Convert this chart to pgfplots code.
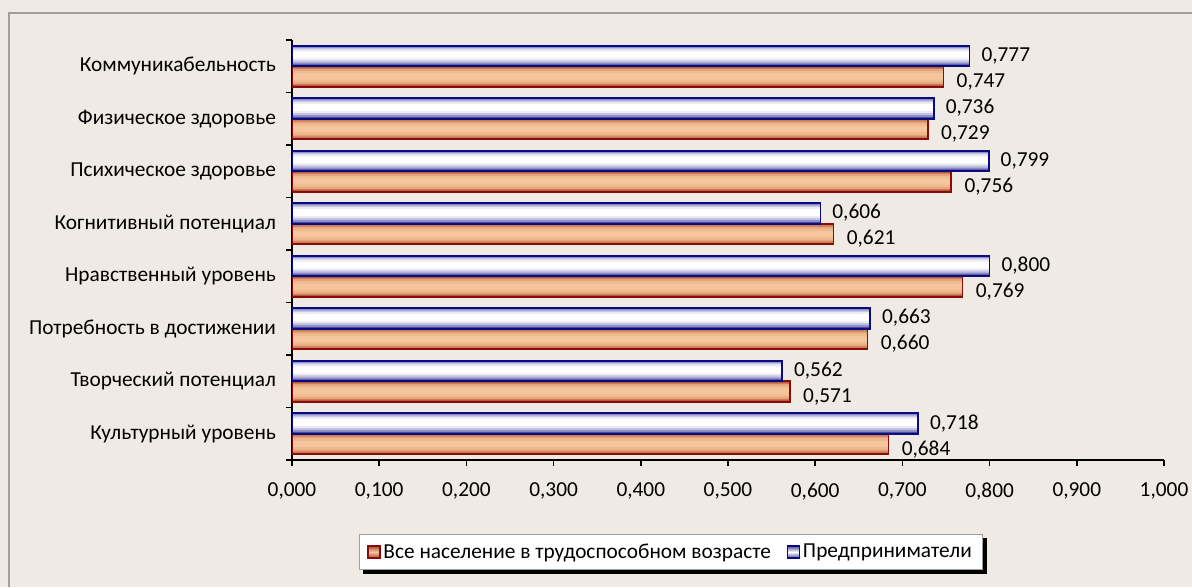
\documentclass[border=0pt]{standalone}
\usepackage{fontspec}
\setmainfont{Carlito}
\usepackage{pgfplots}
\usepackage{pgfplotstable}
\pgfplotsset{compat=1.18}
\pgfdeclarelayer{background}
\pgfsetlayers{background,main}

\definecolor{bg}{RGB}{239,234,227}
\definecolor{frame}{RGB}{160,160,155}
\definecolor{navyedge}{RGB}{10,10,130}
\definecolor{rededge}{RGB}{140,10,10}
\definecolor{b1}{RGB}{75,75,155}
\definecolor{b2}{RGB}{140,140,195}
\definecolor{b3}{RGB}{195,195,225}
\definecolor{b4}{RGB}{235,235,245}
\definecolor{r1}{RGB}{165,75,50}
\definecolor{r2}{RGB}{200,125,88}
\definecolor{r3}{RGB}{228,165,122}
\definecolor{r4}{RGB}{240,185,142}
\definecolor{r5}{RGB}{245,198,158}

% Все население в трудоспособном возрасте (y = категория снизу вверх)
\pgfplotstableread{
x y
0.684 0
0.571 1
0.660 2
0.769 3
0.621 4
0.756 5
0.729 6
0.747 7
}\allpop
% Предприниматели
\pgfplotstableread{
x y
0.718 0
0.562 1
0.663 2
0.800 3
0.606 4
0.799 5
0.736 6
0.777 7
}\entrep

\pgfplotsset{
  band/.style n args={3}{xbar, forget plot, draw=none, fill=#1, bar width=#2, bar shift=#3},
}

\begin{document}
\begin{tikzpicture}
\begin{pgfonlayer}{background}
\fill[bg] (0,0) rectangle (894pt,440.25pt);
\end{pgfonlayer}
\draw[frame, line width=2pt] (6.75pt,0) -- (6.75pt,430.5pt) -- (894pt,430.5pt);
\begin{axis}[
  at={(219pt,95.25pt)}, anchor=south west,
  scale only axis, width=654pt, height=315pt,
  font=\fontsize{16}{18}\selectfont,
  xmin=0, xmax=1, ymin=-0.5, ymax=7.5,
  axis x line*=bottom, axis y line*=left,
  axis line style={line width=1.2pt},
  tick align=outside,
  major tick length=4.5pt, minor tick length=4.5pt,
  tick style={line width=1.2pt, black},
  xtick={0,0.1,...,1.01},
  xticklabel style={yshift=-9pt},
  x tick label style={/pgf/number format/.cd, fixed, fixed zerofill, precision=3, use comma, /tikz/.cd},
  /pgf/number format/assume math mode=true,
  ytick={0,...,7},
  yticklabels={Культурный уровень, Творческий потенциал, Потребность в достижении, Нравственный уровень, Когнитивный потенциал, Психическое здоровье, Физическое здоровье, Коммуникабельность},
  major y tick style={draw=none},
  minor ytick={-0.5,0.5,...,7.5},
  yticklabel style={xshift=-4pt},
  legend style={at={(0.4346,-0.219)}, anchor=center, legend columns=2,
    draw=frame, fill=white, inner xsep=6pt, inner ysep=5pt, name=leg,
    /tikz/every even column/.append style={column sep=10pt}},
  legend image code/.code={\draw[#1, line width=1pt] (0pt,-4.5pt) rectangle (9pt,4.5pt);},
]
% красные полосы (нижние)
\addplot[band={r1}{0.39}{-0.195}] table {\allpop};
\addplot[band={r2}{0.34}{-0.195}] table {\allpop};
\addplot[band={r3}{0.28}{-0.195}] table {\allpop};
\addplot[band={r4}{0.21}{-0.195}] table {\allpop};
\addplot[band={r5}{0.12}{-0.195}] table {\allpop};
\addplot[xbar, forget plot, draw=rededge, fill=none, line width=1.3pt, bar width=0.39, bar shift=-0.195,
  nodes near coords={\pgfmathprintnumber[fixed,fixed zerofill,precision=3,use comma]{\pgfplotspointmeta}},
  nodes near coords style={anchor=west, xshift=6pt, yshift=-11.5pt, text=black}] table {\allpop};
% синие полосы (верхние)
\addplot[band={b1}{0.39}{0.195}] table {\entrep};
\addplot[band={b2}{0.34}{0.205}] table {\entrep};
\addplot[band={b3}{0.28}{0.21}] table {\entrep};
\addplot[band={b4}{0.21}{0.215}] table {\entrep};
\addplot[band={white}{0.13}{0.215}] table {\entrep};
\addplot[xbar, forget plot, draw=navyedge, fill=none, line width=1.3pt, bar width=0.39, bar shift=0.195,
  nodes near coords={\pgfmathprintnumber[fixed,fixed zerofill,precision=3,use comma]{\pgfplotspointmeta}},
  nodes near coords style={anchor=west, xshift=5pt, yshift=8pt, text=black}] table {\entrep};
\addlegendimage{legend image code/.code={\draw[rededge, line width=1pt, top color=r1, bottom color=r1, middle color=r5] (0pt,-4.5pt) rectangle (9pt,4.5pt);}}
\addlegendentry{Все население в трудоспособном возрасте}
\addlegendimage{legend image code/.code={\draw[navyedge, line width=1pt, top color=b1, bottom color=b1, middle color=white] (0pt,-4.5pt) rectangle (9pt,4.5pt);}}
\addlegendentry{Предприниматели}
\end{axis}
\begin{pgfonlayer}{background}
\fill[black] ([xshift=3pt,yshift=-3pt]leg.south west) rectangle ([xshift=3pt,yshift=-3pt]leg.north east);
\end{pgfonlayer}
\pgfresetboundingbox
\useasboundingbox (0,0) rectangle (894pt,440.25pt);
\end{tikzpicture}
\end{document}
